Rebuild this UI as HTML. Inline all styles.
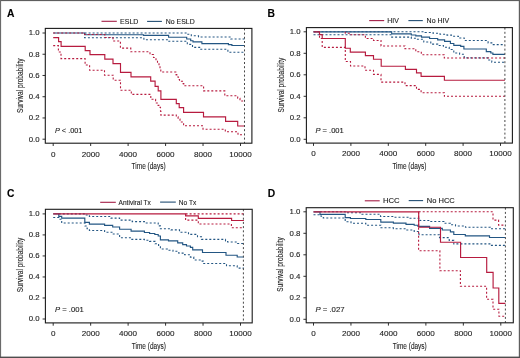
<!DOCTYPE html>
<html><head><meta charset="utf-8"><style>
html,body{margin:0;padding:0;background:#fff;}
svg{display:block;}
text{font-family:"Liberation Sans", sans-serif;stroke:#2a2a2a;stroke-width:0.12px;paint-order:stroke;}
.t{filter:grayscale(1);}
</style></head><body>
<svg width="520" height="358" viewBox="0 0 520 358">
<rect x="0" y="0" width="520" height="358" fill="#fff"/>
<line x1="42.50" y1="139.20" x2="45.30" y2="139.20" stroke="#1a1a1a" stroke-width="0.9"/>
<line x1="42.50" y1="117.96" x2="45.30" y2="117.96" stroke="#1a1a1a" stroke-width="0.9"/>
<line x1="42.50" y1="96.72" x2="45.30" y2="96.72" stroke="#1a1a1a" stroke-width="0.9"/>
<line x1="42.50" y1="75.48" x2="45.30" y2="75.48" stroke="#1a1a1a" stroke-width="0.9"/>
<line x1="42.50" y1="54.24" x2="45.30" y2="54.24" stroke="#1a1a1a" stroke-width="0.9"/>
<line x1="42.50" y1="33.00" x2="45.30" y2="33.00" stroke="#1a1a1a" stroke-width="0.9"/>
<line x1="53.20" y1="143.20" x2="53.20" y2="146.00" stroke="#1a1a1a" stroke-width="0.9"/>
<line x1="90.66" y1="143.20" x2="90.66" y2="146.00" stroke="#1a1a1a" stroke-width="0.9"/>
<line x1="128.12" y1="143.20" x2="128.12" y2="146.00" stroke="#1a1a1a" stroke-width="0.9"/>
<line x1="165.58" y1="143.20" x2="165.58" y2="146.00" stroke="#1a1a1a" stroke-width="0.9"/>
<line x1="203.04" y1="143.20" x2="203.04" y2="146.00" stroke="#1a1a1a" stroke-width="0.9"/>
<line x1="240.50" y1="143.20" x2="240.50" y2="146.00" stroke="#1a1a1a" stroke-width="0.9"/>
<path d="M84.60,33.00H186.70V34.30H191.30V35.80H198.50V37.00H230.80V39.00H244.50" fill="none" stroke="#235683" stroke-width="1.1" stroke-dasharray="2,2"/>
<path d="M84.60,33.00H84.60V37.70H143.90V39.70H168.30V41.30H187.30V44.40H192.50V47.40H200.80V49.30H227.90V52.20H244.50" fill="none" stroke="#235683" stroke-width="1.1" stroke-dasharray="2,2"/>
<path d="M53.20,33.00H84.60V34.70H143.50V35.40H168.60V37.20H186.70V39.00H190.70V40.70H193.00V41.80H201.90V43.60H228.40V44.60H231.90V45.50H244.50" fill="none" stroke="#235683" stroke-width="1.15"/>
<path d="M53.20,33.00H84.60V34.50H104.80V37.50H113.00V41.00H120.40V48.10H130.80V51.80H150.00V54.50H153.50V57.50H156.00V60.50H157.50V63.00H159.00V66.00H160.00V69.00H160.80V72.00H175.80V74.60H176.80V77.00H178.50V79.50H179.50V81.30H182.50V83.60H183.80V85.80H203.60V90.90H224.80V95.80H237.70V98.30H240.00V101.00H244.50" fill="none" stroke="#b71b3f" stroke-width="1.1" stroke-dasharray="2,2"/>
<path d="M53.20,45.60H58.40V52.00H61.00V58.60H85.10V65.00H89.60V70.20H104.50V75.20H113.20V80.20H120.50V90.30H131.30V94.40H150.80V99.30H155.60V103.00H158.10V105.40H160.10V107.40H160.50V111.20H160.90V115.10H176.30V116.80H178.10V119.10H180.00V122.00H183.60V125.80H203.00V129.20H225.30V131.80H238.00V134.80H244.50" fill="none" stroke="#b71b3f" stroke-width="1.1" stroke-dasharray="2,2"/>
<path d="M53.20,37.60H58.60V41.60H61.10V46.30H85.20V50.60H90.00V54.60H104.80V59.10H113.00V63.60H120.50V72.30H131.00V76.90H150.70V81.10H155.10V86.40H158.20V90.80H160.90V99.30H176.30V103.60H179.20V107.60H183.60V112.40H203.50V116.80H225.60V121.40H237.70V126.00H244.50" fill="none" stroke="#b71b3f" stroke-width="1.15"/>
<line x1="244.50" y1="28.40" x2="244.50" y2="143.20" stroke="#484848" stroke-width="1.0" stroke-dasharray="2,2.2"/>
<rect x="45.30" y="28.40" width="206.60" height="114.80" fill="none" stroke="#1a1a1a" stroke-width="1.1"/>
<line x1="101.5" y1="21.3" x2="116.8" y2="21.3" stroke="#a31d45" stroke-width="1.1"/>
<line x1="147.1" y1="21.4" x2="161.9" y2="21.4" stroke="#214d73" stroke-width="1.1"/>
<line x1="303.60" y1="139.30" x2="306.40" y2="139.30" stroke="#1a1a1a" stroke-width="0.9"/>
<line x1="303.60" y1="117.80" x2="306.40" y2="117.80" stroke="#1a1a1a" stroke-width="0.9"/>
<line x1="303.60" y1="96.30" x2="306.40" y2="96.30" stroke="#1a1a1a" stroke-width="0.9"/>
<line x1="303.60" y1="74.80" x2="306.40" y2="74.80" stroke="#1a1a1a" stroke-width="0.9"/>
<line x1="303.60" y1="53.30" x2="306.40" y2="53.30" stroke="#1a1a1a" stroke-width="0.9"/>
<line x1="303.60" y1="31.80" x2="306.40" y2="31.80" stroke="#1a1a1a" stroke-width="0.9"/>
<line x1="313.50" y1="143.10" x2="313.50" y2="145.90" stroke="#1a1a1a" stroke-width="0.9"/>
<line x1="350.90" y1="143.10" x2="350.90" y2="145.90" stroke="#1a1a1a" stroke-width="0.9"/>
<line x1="388.30" y1="143.10" x2="388.30" y2="145.90" stroke="#1a1a1a" stroke-width="0.9"/>
<line x1="425.70" y1="143.10" x2="425.70" y2="145.90" stroke="#1a1a1a" stroke-width="0.9"/>
<line x1="463.10" y1="143.10" x2="463.10" y2="145.90" stroke="#1a1a1a" stroke-width="0.9"/>
<line x1="500.50" y1="143.10" x2="500.50" y2="145.90" stroke="#1a1a1a" stroke-width="0.9"/>
<path d="M313.50,31.80H425.00V32.50H433.00V33.30H440.00V34.20H447.00V35.10H451.50V36.20H458.40V38.00H464.20V40.50H488.10V42.90H491.80V44.60H504.90" fill="none" stroke="#235683" stroke-width="1.1" stroke-dasharray="2,2"/>
<path d="M313.50,34.70H391.70V37.10H411.30V38.30H416.90V39.30H423.80V42.00H430.80V44.10H437.70V45.50H443.40V47.20H449.20V49.50H453.80V53.00H459.60V54.30H464.20V57.90H488.00V60.00H491.80V62.20H504.90" fill="none" stroke="#235683" stroke-width="1.1" stroke-dasharray="2,2"/>
<path d="M313.50,31.80H391.70V33.90H411.30V35.00H415.80V35.80H421.50V37.10H429.60V38.50H437.70V39.90H444.60V41.40H450.40V43.50H453.80V45.30H460.70V46.40H463.90V49.00H486.30V51.60H490.80V53.00H492.90V54.40H504.90" fill="none" stroke="#235683" stroke-width="1.15"/>
<path d="M345.30,31.80H345.30V33.30H350.30V34.70H365.40V38.50H373.50V40.50H381.00V46.00H405.00V48.70H415.80V51.80H421.30V54.70H444.30V58.00H504.90" fill="none" stroke="#b71b3f" stroke-width="1.1" stroke-dasharray="2,2"/>
<path d="M319.50,31.80H319.50V38.50H322.20V47.40H345.30V61.50H350.50V66.00H365.00V70.20H373.50V74.40H381.00V82.10H405.00V85.60H416.50V89.40H421.10V92.70H444.40V96.30H504.90" fill="none" stroke="#b71b3f" stroke-width="1.1" stroke-dasharray="2,2"/>
<path d="M313.50,31.80H319.50V34.60H322.20V38.50H345.30V48.20H350.30V52.10H365.40V55.60H373.50V59.20H381.20V66.20H405.40V69.40H416.50V72.90H421.10V76.30H444.40V80.20H504.90" fill="none" stroke="#b71b3f" stroke-width="1.15"/>
<line x1="504.90" y1="27.60" x2="504.90" y2="143.10" stroke="#484848" stroke-width="1.0" stroke-dasharray="2,2.2"/>
<rect x="306.40" y="27.60" width="206.00" height="115.50" fill="none" stroke="#1a1a1a" stroke-width="1.1"/>
<line x1="369.2" y1="20.6" x2="384.2" y2="20.6" stroke="#a31d45" stroke-width="1.1"/>
<line x1="408.4" y1="20.6" x2="422.8" y2="20.6" stroke="#214d73" stroke-width="1.1"/>
<line x1="42.60" y1="319.00" x2="45.40" y2="319.00" stroke="#1a1a1a" stroke-width="0.9"/>
<line x1="42.60" y1="297.98" x2="45.40" y2="297.98" stroke="#1a1a1a" stroke-width="0.9"/>
<line x1="42.60" y1="276.96" x2="45.40" y2="276.96" stroke="#1a1a1a" stroke-width="0.9"/>
<line x1="42.60" y1="255.94" x2="45.40" y2="255.94" stroke="#1a1a1a" stroke-width="0.9"/>
<line x1="42.60" y1="234.92" x2="45.40" y2="234.92" stroke="#1a1a1a" stroke-width="0.9"/>
<line x1="42.60" y1="213.90" x2="45.40" y2="213.90" stroke="#1a1a1a" stroke-width="0.9"/>
<line x1="53.20" y1="322.90" x2="53.20" y2="325.70" stroke="#1a1a1a" stroke-width="0.9"/>
<line x1="90.66" y1="322.90" x2="90.66" y2="325.70" stroke="#1a1a1a" stroke-width="0.9"/>
<line x1="128.12" y1="322.90" x2="128.12" y2="325.70" stroke="#1a1a1a" stroke-width="0.9"/>
<line x1="165.58" y1="322.90" x2="165.58" y2="325.70" stroke="#1a1a1a" stroke-width="0.9"/>
<line x1="203.04" y1="322.90" x2="203.04" y2="325.70" stroke="#1a1a1a" stroke-width="0.9"/>
<line x1="240.50" y1="322.90" x2="240.50" y2="325.70" stroke="#1a1a1a" stroke-width="0.9"/>
<path d="M58.80,213.90H84.80V215.00H89.40V216.50H111.00V218.10H119.60V220.10H132.20V221.60H144.40V223.00H158.20V225.90H160.40V228.80H171.00V229.90H179.50V232.20H188.50V234.40H197.50V236.80H201.50V239.40H225.50V240.90H227.60V242.00H237.50V243.50H243.90" fill="none" stroke="#235683" stroke-width="1.1" stroke-dasharray="2,2"/>
<path d="M53.20,217.50H58.80V219.20H61.70V223.00H85.00V226.00H87.10V228.80H89.40V230.50H104.60V232.20H112.70V234.00H119.60V237.80H131.10V239.40H144.40V240.30H149.60V241.40H155.00V243.80H158.60V245.50H160.40V249.00H167.30V250.20H173.00V251.30H178.80V253.10H184.60V254.80H190.40V257.10H193.80V260.00H200.70V261.10H203.20V263.50H226.50V265.80H237.20V268.10H243.90" fill="none" stroke="#235683" stroke-width="1.1" stroke-dasharray="2,2"/>
<path d="M53.20,213.90H58.80V216.30H61.70V218.10H84.80V222.40H89.40V224.10H104.60V225.30H112.70V227.00H119.60V229.20H131.10V231.10H144.40V232.50H149.60V233.50H154.80V234.50H158.20V236.00H160.40V239.80H168.50V240.80H177.70V242.80H182.70V244.60H186.50V246.00H190.40V247.30H192.70V249.80H202.50V252.50H226.00V255.20H237.20V257.00H243.90" fill="none" stroke="#235683" stroke-width="1.15"/>
<path d="M185.60,213.90H243.90" fill="none" stroke="#b71b3f" stroke-width="1.1" stroke-dasharray="2,2"/>
<path d="M185.60,213.90H185.60V220.10H198.30V224.00H231.40V227.70H243.90" fill="none" stroke="#b71b3f" stroke-width="1.1" stroke-dasharray="2,2"/>
<path d="M53.20,213.90H185.60V215.90H198.30V218.40H231.60V220.50H243.90" fill="none" stroke="#b71b3f" stroke-width="1.15"/>
<line x1="243.40" y1="209.30" x2="243.40" y2="322.90" stroke="#484848" stroke-width="1.0" stroke-dasharray="2,2.2"/>
<rect x="45.40" y="209.30" width="206.80" height="113.60" fill="none" stroke="#1a1a1a" stroke-width="1.1"/>
<line x1="100.2" y1="202.3" x2="115.8" y2="202.3" stroke="#a31d45" stroke-width="1.1"/>
<line x1="160.1" y1="202.1" x2="175.8" y2="202.1" stroke="#214d73" stroke-width="1.1"/>
<line x1="303.40" y1="319.30" x2="306.20" y2="319.30" stroke="#1a1a1a" stroke-width="0.9"/>
<line x1="303.40" y1="297.80" x2="306.20" y2="297.80" stroke="#1a1a1a" stroke-width="0.9"/>
<line x1="303.40" y1="276.30" x2="306.20" y2="276.30" stroke="#1a1a1a" stroke-width="0.9"/>
<line x1="303.40" y1="254.80" x2="306.20" y2="254.80" stroke="#1a1a1a" stroke-width="0.9"/>
<line x1="303.40" y1="233.30" x2="306.20" y2="233.30" stroke="#1a1a1a" stroke-width="0.9"/>
<line x1="303.40" y1="211.80" x2="306.20" y2="211.80" stroke="#1a1a1a" stroke-width="0.9"/>
<line x1="313.50" y1="322.80" x2="313.50" y2="325.60" stroke="#1a1a1a" stroke-width="0.9"/>
<line x1="350.96" y1="322.80" x2="350.96" y2="325.60" stroke="#1a1a1a" stroke-width="0.9"/>
<line x1="388.42" y1="322.80" x2="388.42" y2="325.60" stroke="#1a1a1a" stroke-width="0.9"/>
<line x1="425.88" y1="322.80" x2="425.88" y2="325.60" stroke="#1a1a1a" stroke-width="0.9"/>
<line x1="463.34" y1="322.80" x2="463.34" y2="325.60" stroke="#1a1a1a" stroke-width="0.9"/>
<line x1="500.80" y1="322.80" x2="500.80" y2="325.60" stroke="#1a1a1a" stroke-width="0.9"/>
<path d="M320.00,211.80H345.20V212.80H362.00V214.30H380.50V216.50H393.40V217.30H408.00V218.30H420.00V220.50H430.00V221.50H444.00V223.30H450.40V224.70H455.50V226.00H465.50V227.30H490.30V228.80H505.40" fill="none" stroke="#235683" stroke-width="1.1" stroke-dasharray="2,2"/>
<path d="M313.50,214.80H321.00V216.20H323.30V218.00H345.20V221.80H351.00V223.30H365.80V225.20H381.00V227.80H393.40V228.70H406.00V230.00H414.20V231.50H419.00V234.70H439.50V237.60H449.20V240.40H453.80V243.90H490.50V245.40H505.40" fill="none" stroke="#235683" stroke-width="1.1" stroke-dasharray="2,2"/>
<path d="M313.50,211.80H320.00V214.40H345.20V217.60H350.40V218.50H365.80V219.50H380.80V222.10H393.40V223.10H406.00V224.30H414.20V225.20H418.00V226.40H429.60V228.30H442.30V230.00H450.40V231.80H453.80V234.50H465.30V235.90H489.50V237.50H505.40" fill="none" stroke="#235683" stroke-width="1.15"/>
<path d="M418.70,211.80H493.00V220.10H498.60V225.10H505.40" fill="none" stroke="#b71b3f" stroke-width="1.1" stroke-dasharray="2,2"/>
<path d="M418.60,211.80H418.60V250.80H439.90V270.70H460.40V286.30H486.60V299.30H493.00V309.20H498.90V316.20H505.40" fill="none" stroke="#b71b3f" stroke-width="1.1" stroke-dasharray="2,2"/>
<path d="M313.50,211.80H418.70V227.20H440.50V242.20H460.60V257.50H486.70V272.30H493.10V288.00H498.80V303.30H505.40" fill="none" stroke="#b71b3f" stroke-width="1.15"/>
<line x1="505.40" y1="207.70" x2="505.40" y2="322.80" stroke="#484848" stroke-width="1.0" stroke-dasharray="2,2.2"/>
<rect x="306.20" y="207.70" width="207.10" height="115.10" fill="none" stroke="#1a1a1a" stroke-width="1.1"/>
<line x1="364.8" y1="200.8" x2="379.7" y2="200.8" stroke="#a31d45" stroke-width="1.1"/>
<line x1="408.7" y1="200.6" x2="423.1" y2="200.6" stroke="#214d73" stroke-width="1.1"/>
<g class="t">
<text x="39.50" y="141.60" font-size="7.8" text-anchor="end" fill="#222">0.0</text>
<text x="39.50" y="120.36" font-size="7.8" text-anchor="end" fill="#222">0.2</text>
<text x="39.50" y="99.12" font-size="7.8" text-anchor="end" fill="#222">0.4</text>
<text x="39.50" y="77.88" font-size="7.8" text-anchor="end" fill="#222">0.6</text>
<text x="39.50" y="56.64" font-size="7.8" text-anchor="end" fill="#222">0.8</text>
<text x="39.50" y="35.40" font-size="7.8" text-anchor="end" fill="#222">1.0</text>
<text x="53.20" y="156.50" font-size="8.1" text-anchor="middle" fill="#222">0</text>
<text x="90.66" y="156.50" font-size="8.1" text-anchor="middle" fill="#222">2000</text>
<text x="128.12" y="156.50" font-size="8.1" text-anchor="middle" fill="#222">4000</text>
<text x="165.58" y="156.50" font-size="8.1" text-anchor="middle" fill="#222">6000</text>
<text x="203.04" y="156.50" font-size="8.1" text-anchor="middle" fill="#222">8000</text>
<text x="240.50" y="156.50" font-size="8.1" text-anchor="middle" fill="#222">10000</text>
<text x="148.60" y="169.20" font-size="8.3" text-anchor="middle" fill="#222" textLength="34" lengthAdjust="spacingAndGlyphs">Time (days)</text>
<text transform="translate(22.50,85.70) rotate(-90)" x="0" y="0" font-size="8.6" text-anchor="middle" fill="#222" textLength="54.6" lengthAdjust="spacingAndGlyphs">Survival probability</text>
<text x="55.00" y="132.70" font-size="7.8" fill="#222" textLength="27.3" lengthAdjust="spacingAndGlyphs"><tspan font-style="italic">P</tspan> &lt; .001</text>
<text x="7.10" y="16.50" font-size="10.3" font-weight="bold" fill="#000">A</text>
<text x="120.1" y="23.80" font-size="7.2" fill="#222" textLength="18.3" lengthAdjust="spacingAndGlyphs">ESLD</text>
<text x="165.8" y="23.90" font-size="7.2" fill="#222" textLength="28.9" lengthAdjust="spacingAndGlyphs">No ESLD</text>
<text x="300.60" y="141.70" font-size="7.8" text-anchor="end" fill="#222">0.0</text>
<text x="300.60" y="120.20" font-size="7.8" text-anchor="end" fill="#222">0.2</text>
<text x="300.60" y="98.70" font-size="7.8" text-anchor="end" fill="#222">0.4</text>
<text x="300.60" y="77.20" font-size="7.8" text-anchor="end" fill="#222">0.6</text>
<text x="300.60" y="55.70" font-size="7.8" text-anchor="end" fill="#222">0.8</text>
<text x="300.60" y="34.20" font-size="7.8" text-anchor="end" fill="#222">1.0</text>
<text x="313.50" y="156.40" font-size="8.1" text-anchor="middle" fill="#222">0</text>
<text x="350.90" y="156.40" font-size="8.1" text-anchor="middle" fill="#222">2000</text>
<text x="388.30" y="156.40" font-size="8.1" text-anchor="middle" fill="#222">4000</text>
<text x="425.70" y="156.40" font-size="8.1" text-anchor="middle" fill="#222">6000</text>
<text x="463.10" y="156.40" font-size="8.1" text-anchor="middle" fill="#222">8000</text>
<text x="500.50" y="156.40" font-size="8.1" text-anchor="middle" fill="#222">10000</text>
<text x="409.40" y="169.10" font-size="8.3" text-anchor="middle" fill="#222" textLength="34" lengthAdjust="spacingAndGlyphs">Time (days)</text>
<text transform="translate(283.50,85.10) rotate(-90)" x="0" y="0" font-size="8.6" text-anchor="middle" fill="#222" textLength="54.6" lengthAdjust="spacingAndGlyphs">Survival probability</text>
<text x="315.40" y="132.70" font-size="7.8" fill="#222" textLength="28.4" lengthAdjust="spacingAndGlyphs"><tspan font-style="italic">P</tspan> = .001</text>
<text x="267.50" y="16.50" font-size="10.3" font-weight="bold" fill="#000">B</text>
<text x="387.3" y="23.10" font-size="7.2" fill="#222" textLength="11.5" lengthAdjust="spacingAndGlyphs">HIV</text>
<text x="426.6" y="23.10" font-size="7.2" fill="#222" textLength="22.6" lengthAdjust="spacingAndGlyphs">No HIV</text>
<text x="39.60" y="321.40" font-size="7.8" text-anchor="end" fill="#222">0.0</text>
<text x="39.60" y="300.38" font-size="7.8" text-anchor="end" fill="#222">0.2</text>
<text x="39.60" y="279.36" font-size="7.8" text-anchor="end" fill="#222">0.4</text>
<text x="39.60" y="258.34" font-size="7.8" text-anchor="end" fill="#222">0.6</text>
<text x="39.60" y="237.32" font-size="7.8" text-anchor="end" fill="#222">0.8</text>
<text x="39.60" y="216.30" font-size="7.8" text-anchor="end" fill="#222">1.0</text>
<text x="53.20" y="336.20" font-size="8.1" text-anchor="middle" fill="#222">0</text>
<text x="90.66" y="336.20" font-size="8.1" text-anchor="middle" fill="#222">2000</text>
<text x="128.12" y="336.20" font-size="8.1" text-anchor="middle" fill="#222">4000</text>
<text x="165.58" y="336.20" font-size="8.1" text-anchor="middle" fill="#222">6000</text>
<text x="203.04" y="336.20" font-size="8.1" text-anchor="middle" fill="#222">8000</text>
<text x="240.50" y="336.20" font-size="8.1" text-anchor="middle" fill="#222">10000</text>
<text x="148.80" y="348.90" font-size="8.3" text-anchor="middle" fill="#222" textLength="34" lengthAdjust="spacingAndGlyphs">Time (days)</text>
<text transform="translate(22.70,265.00) rotate(-90)" x="0" y="0" font-size="8.6" text-anchor="middle" fill="#222" textLength="54.6" lengthAdjust="spacingAndGlyphs">Survival probability</text>
<text x="55.00" y="312.00" font-size="7.8" fill="#222" textLength="28.8" lengthAdjust="spacingAndGlyphs"><tspan font-style="italic">P</tspan> = .001</text>
<text x="7.00" y="196.90" font-size="10.3" font-weight="bold" fill="#000">C</text>
<text x="118.6" y="204.80" font-size="7.2" fill="#222" textLength="32.3" lengthAdjust="spacingAndGlyphs">Antiviral Tx</text>
<text x="178.8" y="204.60" font-size="7.2" fill="#222" textLength="17.4" lengthAdjust="spacingAndGlyphs">No Tx</text>
<text x="300.40" y="321.70" font-size="7.8" text-anchor="end" fill="#222">0.0</text>
<text x="300.40" y="300.20" font-size="7.8" text-anchor="end" fill="#222">0.2</text>
<text x="300.40" y="278.70" font-size="7.8" text-anchor="end" fill="#222">0.4</text>
<text x="300.40" y="257.20" font-size="7.8" text-anchor="end" fill="#222">0.6</text>
<text x="300.40" y="235.70" font-size="7.8" text-anchor="end" fill="#222">0.8</text>
<text x="300.40" y="214.20" font-size="7.8" text-anchor="end" fill="#222">1.0</text>
<text x="313.50" y="336.10" font-size="8.1" text-anchor="middle" fill="#222">0</text>
<text x="350.96" y="336.10" font-size="8.1" text-anchor="middle" fill="#222">2000</text>
<text x="388.42" y="336.10" font-size="8.1" text-anchor="middle" fill="#222">4000</text>
<text x="425.88" y="336.10" font-size="8.1" text-anchor="middle" fill="#222">6000</text>
<text x="463.34" y="336.10" font-size="8.1" text-anchor="middle" fill="#222">8000</text>
<text x="500.80" y="336.10" font-size="8.1" text-anchor="middle" fill="#222">10000</text>
<text x="409.75" y="348.80" font-size="8.3" text-anchor="middle" fill="#222" textLength="34" lengthAdjust="spacingAndGlyphs">Time (days)</text>
<text transform="translate(283.30,264.50) rotate(-90)" x="0" y="0" font-size="8.6" text-anchor="middle" fill="#222" textLength="54.6" lengthAdjust="spacingAndGlyphs">Survival probability</text>
<text x="315.40" y="312.00" font-size="7.8" fill="#222" textLength="29.2" lengthAdjust="spacingAndGlyphs"><tspan font-style="italic">P</tspan> = .027</text>
<text x="267.70" y="196.90" font-size="10.3" font-weight="bold" fill="#000">D</text>
<text x="382.9" y="203.30" font-size="7.2" fill="#222" textLength="16.7" lengthAdjust="spacingAndGlyphs">HCC</text>
<text x="426.8" y="203.10" font-size="7.2" fill="#222" textLength="28.0" lengthAdjust="spacingAndGlyphs">No HCC</text>
</g>
<rect x="0" y="0" width="520" height="1.1" fill="#5e5e5e"/>
<rect x="0" y="0" width="1.1" height="358" fill="#6a6a6a"/>
<rect x="518.8" y="0" width="1.2" height="358" fill="#5e5e5e"/>
<rect x="0" y="356.6" width="520" height="1.4" fill="#4e4e4e"/>
</svg>
</body></html>
